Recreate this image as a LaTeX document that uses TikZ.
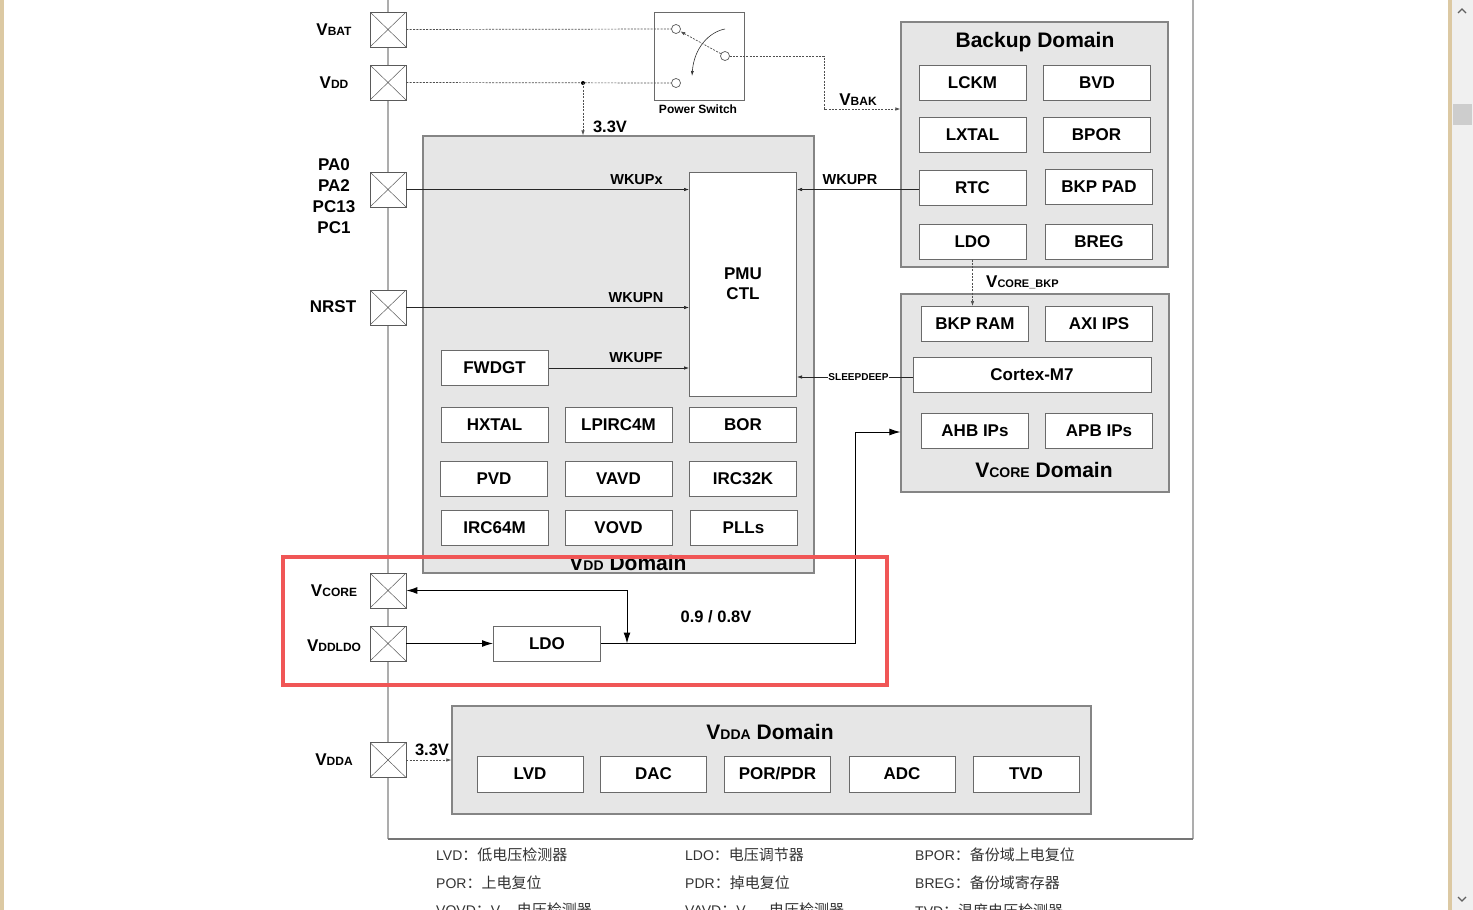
\documentclass[tikz,border=0pt]{standalone}
\usepackage{fontspec}
\setmainfont{Liberation Sans}
\newfontfamily\cjk{Noto Sans CJK SC}
\usetikzlibrary{arrows.meta}
\definecolor{domfill}{HTML}{E6E6E6}
\definecolor{domline}{HTML}{858585}
\definecolor{boxline}{HTML}{6A6A6A}
\definecolor{padline}{HTML}{5A5A5A}
\definecolor{framegray}{HTML}{ADADAD}
\definecolor{framedark}{HTML}{757575}
\definecolor{redmark}{HTML}{F05656}
\definecolor{beige}{HTML}{DCC9A3}
\definecolor{scrollbg}{HTML}{F0F0F0}
\definecolor{thumbgray}{HTML}{CDCDCD}
\definecolor{chev}{HTML}{606060}
\definecolor{legendtext}{HTML}{333333}
\definecolor{dashgray}{HTML}{505050}
\newcommand{\fsz}[1]{\fontsize{#1}{#1}\selectfont}
\begin{document}
\begin{tikzpicture}[x=1pt,y=-1pt,
  dom/.style={draw=domline, fill=domfill, line width=1.2pt, inner sep=0pt},
  blk/.style={draw=boxline, fill=white, line width=1pt, inner sep=0pt, minimum width=107pt, minimum height=35pt, font=\bfseries\fsz{17}},
  pad/.style={draw=padline, fill=white, line width=0.8pt, minimum width=36pt, minimum height=35pt, inner sep=0pt,
     path picture={\draw[padline, line width=0.5pt] (path picture bounding box.north west)--(path picture bounding box.south east) (path picture bounding box.north east)--(path picture bounding box.south west);}},
  padlabel/.style={font=\bfseries\fsz{17}, inner sep=0pt},
  titlelab/.style={font=\bfseries\fsz{21}, inner sep=0pt},
  siglabel/.style={font=\bfseries\fsz{14.5}, inner sep=0pt},
  circ/.style={circle, draw=padline, fill=white, line width=0.7pt, minimum size=9pt, inner sep=0pt},
  dashline/.style={draw=dashgray, line width=0.7pt, dash pattern=on 2pt off 1.3pt},
  sigline/.style={draw=black!85, line width=0.7pt},
  conn/.style={draw=black, line width=1pt},
  smalltip/.tip={Latex[length=5pt,width=3.5pt]},
  bigtip/.tip={Latex[length=11pt,width=7pt]},
  legend/.style={anchor=west, inner sep=0pt, text=legendtext, font=\fsz{14}},
]
% page and viewer chrome
\fill[white] (0,0) rectangle (1473,910);
\useasboundingbox (0,0) rectangle (1473,910);
\fill[beige] (0,0) rectangle (4,910);
\fill[beige] (1448,0) rectangle (1452,910);
\fill[scrollbg] (1452,0) rectangle (1473,910);
\fill[thumbgray] (1453,104) rectangle (1472,125);
\draw[chev, line width=1.2pt] (1458,13) -- (1462,9) -- (1466,13);
\draw[chev, line width=1.2pt] (1458,897) -- (1462,901) -- (1466,897);

% outer frame
\draw[framegray, line width=2pt] (388,0) -- (388,839);
\draw[framegray, line width=2pt] (1193,0) -- (1193,839);
\draw[framedark, line width=1.3pt] (388,839) -- (1193,839);

% pads
\node[pad] (vbat) at (388,29.5) {};
\node[pad] (vdd) at (388,82.5) {};
\node[pad] (pa) at (388,189.5) {};
\node[pad] (nrst) at (388,307.5) {};
\node[pad] (vcore) at (388,590.5) {};
\node[pad] (vddldo) at (388,643.5) {};
\node[pad] (vdda) at (388,760) {};

\node[padlabel] (lvbat) at (334,29.5) {V{\fsz{12}BAT}};
\node[padlabel] (lvdd) at (334,82.5) {V{\fsz{12}DD}};
\node[padlabel] (lpa0) at (334,165) {PA0};
\node[padlabel] (lpa2) at (334,186) {PA2};
\node[padlabel] (lpc13) at (334,207) {PC13};
\node[padlabel] (lpc1) at (334,228) {PC1};
\node[padlabel] (lnrst) at (333,307) {NRST};
\node[padlabel] (lvcore) at (334,591) {V{\fsz{12}CORE}};
\node[padlabel] (lvddldo) at (334,646) {V{\fsz{12}DDLDO}};
\node[padlabel] (lvdda) at (334,760) {V{\fsz{12}DDA}};

% power switch
\node[draw=boxline, fill=white, line width=1pt, minimum width=90pt, minimum height=88pt, inner sep=0pt] (psw) at (699,56) {};
\node[circ] (c1) at (676,29) {};
\node[circ] (c2) at (725,56) {};
\node[circ] (c3) at (676,83) {};
\node[font=\bfseries\fsz{12}, inner sep=0pt] (lpsw) at (698,109) {Power Switch};
\coordinate (cv1) at (725,29);
\coordinate (cv2) at (692,76);
\draw[draw=black!80, line width=0.6pt, -{Latex[length=5pt,width=3pt]}] (cv1) .. controls (709,32) and (694,48) .. (cv2);
\draw[dashline, -{smalltip}] (c2) -- (c1);

% domains
\node[dom, minimum width=267pt, minimum height=245pt] (bakdom) at (1034.5,144.5) {};
\node[dom, minimum width=391pt, minimum height=437pt] (vdddom) at (618.5,354.5) {};
\node[dom, minimum width=268pt, minimum height=198pt] (vcoredom) at (1035,393) {};
\node[dom, minimum width=639pt, minimum height=108pt] (vddadom) at (771.5,760) {};

\node[titlelab] (tbak) at (1035,42) {Backup Domain};
\node[titlelab] (tvdd) at (628,563) {V{\fsz{14}DD} Domain};
\node[titlelab] (tvcore) at (1044,470) {V{\fsz{14}CORE} Domain};
\node[titlelab] (tvdda) at (770,732) {V{\fsz{14}DDA} Domain};

% backup domain blocks
\node[blk] (lckm) at (972.5,82.5) {LCKM};
\node[blk] (bvd) at (1097,82.5) {BVD};
\node[blk] (lxtal) at (972.5,134.5) {LXTAL};
\node[blk] (bpor) at (1096.5,134.5) {BPOR};
\node[blk] (rtc) at (972.5,188) {RTC};
\node[blk] (bkppad) at (1099,187) {BKP PAD};
\node[blk] (ldob) at (972.5,241.5) {LDO};
\node[blk] (breg) at (1099,241.5) {BREG};

% VDD domain blocks
\node[blk, minimum height=224pt, align=center, font=\bfseries\fontsize{17}{20}\selectfont] (pmu) at (743,284) {PMU\\CTL};
\node[blk] (fwdgt) at (494.5,368) {FWDGT};
\node[blk] (hxtal) at (494.5,425) {HXTAL};
\node[blk] (lpirc) at (618.5,425) {LPIRC4M};
\node[blk] (bor) at (743,425) {BOR};
\node[blk] (pvd) at (494,478.5) {PVD};
\node[blk] (vavd) at (618.5,478.5) {VAVD};
\node[blk] (irc32k) at (743,478.5) {IRC32K};
\node[blk] (irc64m) at (494.5,528) {IRC64M};
\node[blk] (vovd) at (618.5,528) {VOVD};
\node[blk] (plls) at (743.5,528) {PLLs};

% VCORE domain blocks
\node[blk] (bkpram) at (975,324) {BKP RAM};
\node[blk] (axi) at (1099,324) {AXI IPS};
\node[blk, minimum width=238pt] (cortex) at (1032,374.5) {Cortex-M7};
\node[blk] (ahb) at (975,431) {AHB IPs};
\node[blk] (apb) at (1099,431) {APB IPs};

% VDDA domain blocks
\node[blk, minimum width=106pt, minimum height=36pt] (lvd) at (530,774) {LVD};
\node[blk, minimum width=106pt, minimum height=36pt] (dac) at (653.5,774) {DAC};
\node[blk, minimum width=106pt, minimum height=36pt] (porpdr) at (777.5,774) {POR/PDR};
\node[blk, minimum width=106pt, minimum height=36pt] (adc) at (902,774) {ADC};
\node[blk, minimum width=106pt, minimum height=36pt] (tvd) at (1026,774) {TVD};

% LDO regulator
\node[blk] (ldo) at (547,643.5) {LDO};

% power connections (dashed)
\draw[dashline] (vbat.east) -- (c1.west);
\draw[dashline] (vdd.east) -- (c3.west);
\coordinate (j1) at (583,83);
\fill[black] (j1) circle (2pt);
\draw[dashline, -{smalltip}] (j1) -- (j1 |- vdddom.north);
\node[siglabel, font=\bfseries\fsz{16.5}] (l33a) at (610,127) {3.3V};
\coordinate (vk) at (824,109);
\draw[dashline, -{smalltip}] (c2.east) -| (vk) -- (vk -| bakdom.west);
\node[padlabel] (lvbak) at (858,100) {V{\fsz{12}BAK}};
\draw[dashline, -{smalltip}] (ldob.south) -- (ldob.south |- bkpram.north);
\node[padlabel, anchor=west] (lvcbkp) at (986,282) {V{\fsz{11}CORE\_BKP}};
\draw[dashline, -{smalltip}] (vdda.east) -- (vdda.east -| vddadom.west);
\node[siglabel, font=\bfseries\fsz{16.5}] (l33b) at (432,750) {3.3V};

% wake-up signals
\draw[sigline, -{smalltip}] (pa.east) -- (pa.east -| pmu.west);
\node[siglabel] (lwkx) at (636.5,180) {WKUPx};
\draw[sigline, -{smalltip}] (nrst.east) -- (nrst.east -| pmu.west);
\node[siglabel] (lwkn) at (636,298) {WKUPN};
\draw[sigline, -{smalltip}] (fwdgt.east) -- (fwdgt.east -| pmu.west);
\node[siglabel] (lwkf) at (636,358) {WKUPF};
\draw[sigline, -{smalltip}] ([yshift=-1.5pt]rtc.west) -- ([yshift=-1.5pt]rtc.west -| pmu.east);
\node[siglabel] (lwkr) at (850,180) {WKUPR};
\draw[sigline, -{smalltip}] ([yshift=-2.5pt]cortex.west) -- ([yshift=-2.5pt]cortex.west -| pmu.east);
\node[font=\bfseries\fsz{10}, fill=white, inner sep=0.5pt] (lsleep) at (858.5,377) {SLEEPDEEP};

% core supply
\draw[conn, -{bigtip}] (vddldo.east) -- (ldo.west);
\coordinate (k1) at (855,432);
\draw[conn, -{bigtip}] (ldo.east) -| (k1) -- (k1 -| vcoredom.west);
\coordinate (tap) at (627,643.5);
\draw[conn, {bigtip}-{bigtip}] (vcore.east) -| (tap);
\node[siglabel, font=\bfseries\fsz{16.5}] (lvolt) at (716,617) {0.9 / 0.8V};

% highlight
\draw[redmark, line width=4pt] (283,557) rectangle (887,685);

% legend
\node[legend] (lg1) at (436,855) {LVD{\cjk\fsz{15}：低电压检测器}};
\node[legend] (lg2) at (685,855) {LDO{\cjk\fsz{15}：电压调节器}};
\node[legend] (lg3) at (915,855) {BPOR{\cjk\fsz{15}：备份域上电复位}};
\node[legend] (lg4) at (436,883) {POR{\cjk\fsz{15}：上电复位}};
\node[legend] (lg5) at (685,883) {PDR{\cjk\fsz{15}：掉电复位}};
\node[legend] (lg6) at (915,883) {BREG{\cjk\fsz{15}：备份域寄存器}};
\node[legend] (lg7) at (436,911) {VOVD{\cjk\fsz{15}：}V\raisebox{-3pt}{\fsz{10}DD}\,{\cjk\fsz{15}电压检测器}};
\node[legend] (lg8) at (685,911) {VAVD{\cjk\fsz{15}：}V\raisebox{-3pt}{\fsz{10}DDA}\,{\cjk\fsz{15}电压检测器}};
\node[legend] (lg9) at (915,911) {TVD{\cjk\fsz{15}：温度电压检测器}};
\end{tikzpicture}
\end{document}
